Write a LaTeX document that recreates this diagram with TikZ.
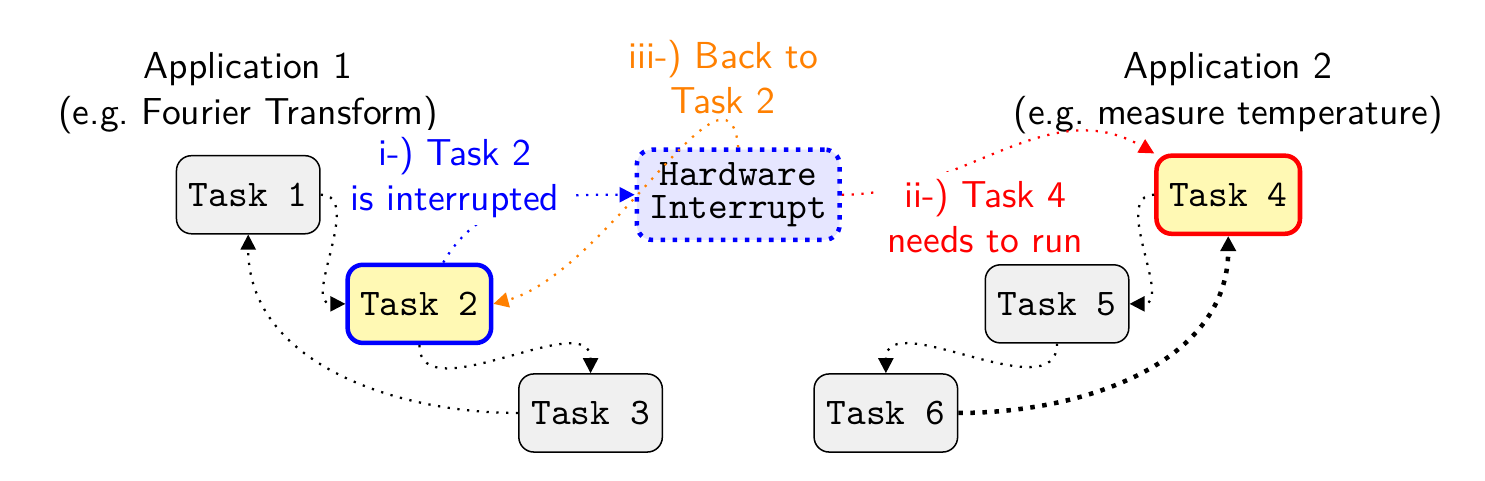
\documentclass[tikz,border=0pt]{standalone}
\usepackage{tikz}
\usetikzlibrary{arrows.meta}
\usetikzlibrary{positioning}
\definecolor{taskgray}{gray}{0.94}
\definecolor{runyellow}{RGB}{255,249,180}
\definecolor{irqblue}{RGB}{230,230,255}
\tikzstyle{task} = [rectangle, draw, fill=taskgray, font=\ttfamily, text centered, rounded corners, minimum height=0.73cm, minimum width=1.31cm]
\tikzstyle{running} = [task, fill=runyellow, very thick]
\tikzstyle{irq} = [task, fill=irqblue, draw=blue, very thick, dotted, align=center]
\tikzstyle{line} = [draw, dotted, semithick, -{Triangle[length=4pt,width=4pt]}]
\tikzstyle{note} = [font=\sffamily, align=center, fill=white, inner ysep=2pt]

\begin{document}
\begin{tikzpicture}[node distance=1.02cm, auto]
          \useasboundingbox (0,0) rectangle (13.88,4.49);
          % Place nodes
          \node [task] (t1) at (2.32,2.67) {Task 1};
          \node [running, draw=blue, below of=t1, xshift=1.6cm] (t2) {Task 2};
          \node [task, below of=t2, xshift=1.6cm] (t3) {Task 3};
          \node [irq, right of=t1, node distance=4.58cm] (irq) {Hardware\\[-3pt]Interrupt};
          \node [running, draw=red, right of=irq, node distance=4.58cm] (t4) {Task 4};
          \node [task, below of=t4, xshift=-1.6cm] (t5) {Task 5};
          \node [task, below of=t5, xshift=-1.6cm] (t6) {Task 6};
          \node [note, above of=t1, node distance=0.95cm] (app1) {Application 1\\(e.g.\ Fourier Transform)};
          \node [note, above of=t4, node distance=0.95cm] (app2) {Application 2\\(e.g.\ measure temperature)};
          \node [note, text=orange, above of=irq, node distance=1.1cm, xshift=-0.14cm] (back) {iii-) Back to\\Task 2};
          % Draw edges
          \path [line] (t1.east) to[out=0,in=180] (t2.west);
          \path [line] (t2.south) to[out=-90,in=90] (t3.north);
          \path [line] (t3.west) to[out=180,in=-90] (t1.south);
          \path [line] (t4.west) to[out=180,in=0] (t5.east);
          \path [line] (t5.south) to[out=-90,in=90] (t6.north);
          \path [line, very thick] (t6.east) to[out=0,in=-90] (t4.south);
          \path [line, blue] (t2) to[out=60,in=180] (irq);
          \path [line, red] (irq) to[out=0,in=150] (t4.north west);
          \path [line, orange] (irq.north) .. controls +(95:1cm) and +(15:1.1cm) .. (t2.east);
          % Labels on top of edges
          \node [note, text=blue, right of=t1, node distance=1.93cm, yshift=0.16cm] (stop) {i-) Task 2\\is interrupted};
          \node [note, text=red, right of=irq, node distance=2.31cm, yshift=-0.2cm] (wake) {ii-) Task 4\\needs to run};
        \end{tikzpicture}
\end{document}
